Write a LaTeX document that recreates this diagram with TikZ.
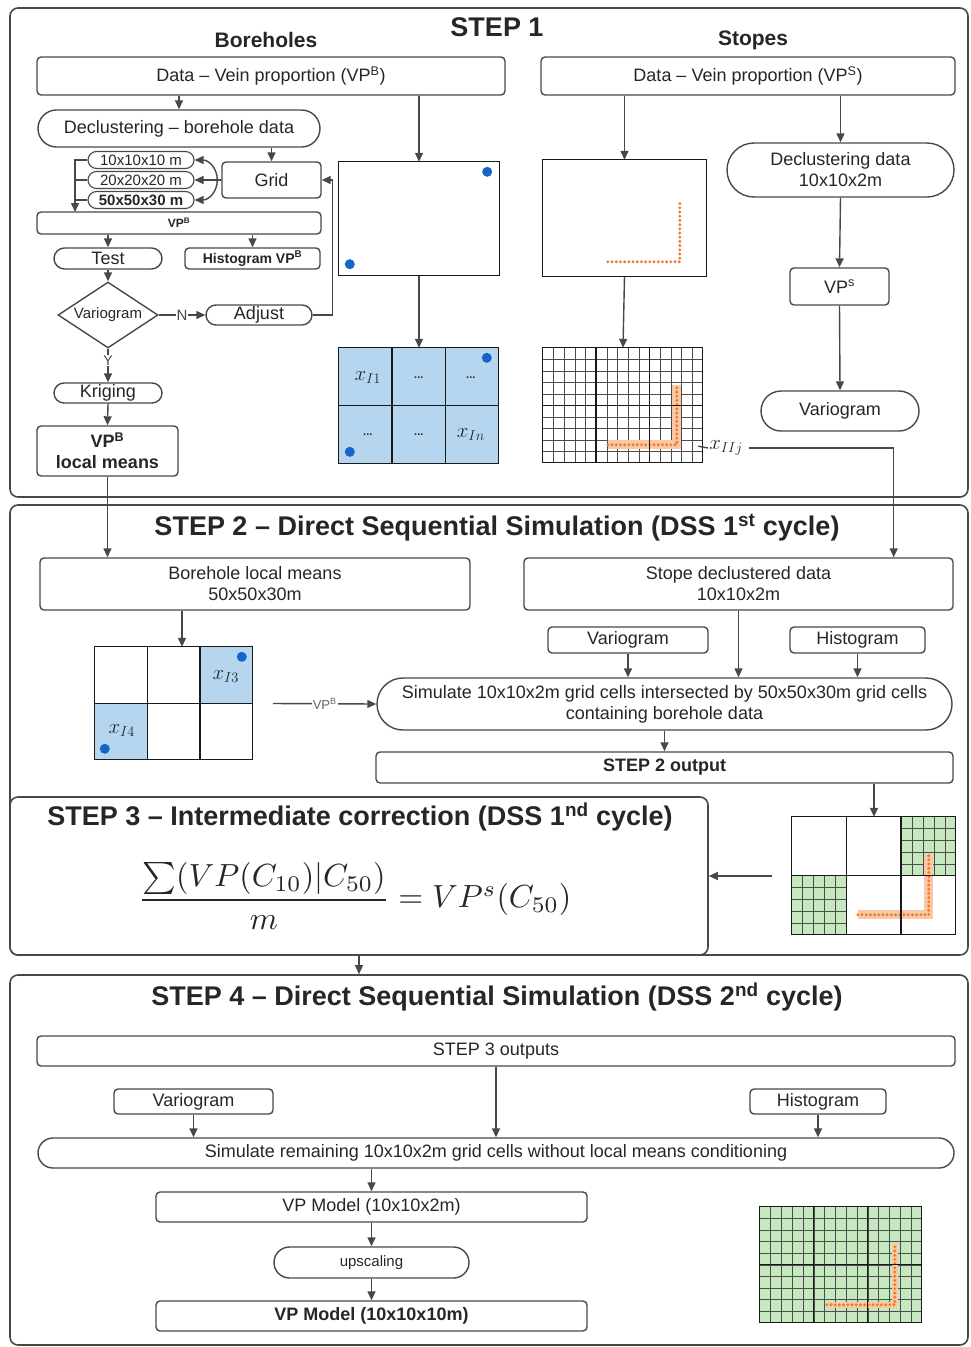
\documentclass[tikz,border=0pt]{standalone}
\usepackage{amsmath}
\usepackage{graphicx}
\usepackage{fontspec}
\setmainfont{Liberation Sans}
\usetikzlibrary{positioning,calc,arrows.meta,shapes.geometric,shapes.misc}

\definecolor{linegray}{HTML}{484848}
\definecolor{cellblue}{HTML}{B5D6EE}
\definecolor{dotblue}{HTML}{1565C8}
\definecolor{cellgreen}{HTML}{C6E8BF}
\definecolor{veinorange}{HTML}{F07B22}
\definecolor{veinpale}{HTML}{F9C8A8}

\tikzset{
    fine/.style={line width=.5pt, black!70},
    coarse/.style={line width=1.3pt, black!90},
    vein/.style={veinorange, line width=3.2pt, line cap=round, dash pattern=on 0pt off 4.2pt},
    veinbg/.style={veinpale, line width=9pt},
    xlab/.style={inner sep=0pt, font=\fontsize{20}{22}\selectfont},
    cdots/.style={inner sep=0pt, font=\bfseries\fontsize{11}{12}\selectfont}
}

\begin{document}
\begin{tikzpicture}[
        x=1pt, y=-1pt,
        >={Triangle[length=9pt,width=8pt]},
        text=black!85,
        box/.style={rectangle, rounded corners=4pt, draw=linegray, line width=1.4pt, inner sep=1pt, align=center, font=\fontsize{18}{21}\selectfont},
        pill/.style={rounded rectangle, draw=linegray, line width=1.4pt, inner sep=1pt, align=center, font=\fontsize{18}{21}\selectfont},
        cellpill/.style={pill, line width=1.1pt, font=\fontsize{15}{17}\selectfont},
        frame/.style={rectangle, rounded corners=8pt, draw=linegray, line width=1.6pt, inner sep=0pt},
        picbox/.style={rectangle, inner sep=0pt},
        title/.style={inner sep=1pt, font=\bfseries\fontsize{27}{30}\selectfont},
        head/.style={font=\bfseries\fontsize{21}{24}\selectfont},
        flow/.style={->, line width=1.4pt, linegray},
        wire/.style={line width=1.4pt, linegray},
    ]
    \useasboundingbox (0,0) rectangle (971,1347);

    % frames of the four steps
    \node[frame, minimum width=958pt, minimum height=489pt] (F1) at (489,252.5) {};
    \node[frame, minimum width=958pt, minimum height=450pt] (F2) at (489,730) {};
    \node[frame, minimum width=958pt, minimum height=370pt] (F4) at (489,1160) {};
    \node[frame, fill=white, minimum width=698pt, minimum height=158pt] (S3) at (359,876) {};

    %%% STEP 1
    \node[title] (T1) at (497,27) {STEP 1};
    \node[head] (hBore) at (266,40) {Boreholes};
    \node[head] (hStope) at (753,40) {Stopes};

    \node[box, minimum width=468pt, minimum height=38pt] (dataB) at (271,76) {Data – Vein proportion (VP\textsuperscript{B})};
    \node[box, minimum width=414pt, minimum height=38pt] (dataS) at (748,76) {Data – Vein proportion (VP\textsuperscript{S})};

    \node[pill, minimum width=284pt, minimum height=37pt] (declB) at (179,128.5) {Declustering – borehole data};
    \node[box, minimum width=99pt, minimum height=36pt] (grid) at (271.5,180) {Grid};
    \node[cellpill, minimum width=108pt, minimum height=17pt] (g10) at (141,160) {10x10x10 m};
    \node[cellpill, minimum width=108pt, minimum height=17pt] (g20) at (141,180) {20x20x20 m};
    \node[cellpill, minimum width=108pt, minimum height=17pt, font=\bfseries\fontsize{15}{17}\selectfont] (g50) at (141,200) {50x50x30 m};
    \coordinate (bk) at (75,212);
    \node[box, minimum width=284pt, minimum height=22pt, font=\bfseries\fontsize{12}{14}\selectfont] (vpB) at (179,223) {VP\textsuperscript{B}};
    \node[pill, minimum width=110pt, minimum height=21pt] (test) at (108,258.5) {Test};
    \node[box, minimum width=135pt, minimum height=21pt, font=\bfseries\fontsize{14}{16}\selectfont] (histB) at (252.5,258.5) {Histogram VP\textsuperscript{B}};
    \node[diamond, draw=linegray, line width=1.4pt, shape aspect=1.5, inner sep=0pt, minimum width=100pt, minimum height=66pt, font=\fontsize{15}{17}\selectfont] (vario) at (108,315) {Variogram};
    \node[pill, minimum width=108pt, minimum height=20pt] (adjust) at (259,315) {Adjust};
    \node[pill, minimum width=110pt, minimum height=20pt] (krig) at (108,393) {Kriging};
    \node[box, minimum width=141pt, minimum height=50pt, font=\bfseries\fontsize{18}{21}\selectfont] (localB) at (107.5,451) {VP\textsuperscript{B}\\local means};

    \node[picbox, minimum width=160pt, minimum height=113pt] (BH) at (419,218.5) {};
    \node[picbox, minimum width=160pt, minimum height=116pt] (BHgrid) at (419,406) {};
    \node[picbox, minimum width=163pt, minimum height=116pt] (ST) at (624.5,218) {};
    \node[picbox, minimum width=160pt, minimum height=115pt] (STgrid) at (623,405.5) {};

    \node[pill, minimum width=229pt, minimum height=54pt] (declS) at (840.5,170) {Declustering data\\10x10x2m};
    \node[box, minimum width=99pt, minimum height=37pt] (vpS) at (839.5,286.5) {VP\textsuperscript{s}};
    \node[pill, minimum width=160pt, minimum height=40pt] (varS) at (840,411) {Variogram};
    \node[xlab, inner sep=1pt] (xIIj) at (726,448) {$x_{IIj}$};

    \draw[flow] (declB.north |- dataB.south) -- (declB.north);
    \draw[flow] (grid.north |- declB.south) -- (grid.north);
    \draw[flow] (grid.west) -- ++(-4,0) .. controls +(0,-12) and +(14,0) .. (g10.east);
    \draw[flow] (grid.west) -- (g20.east);
    \draw[flow] (grid.west) -- ++(-4,0) .. controls +(0,12) and +(14,0) .. (g50.east);
    \draw[flow] (g10.west) -| (bk);
    \draw[wire] (g20.west) -- (g20.west -| bk);
    \draw[wire] (g50.west) -- (g50.west -| bk);
    \draw[flow] (test.north |- vpB.south) -- (test.north);
    \draw[flow] (histB.north |- vpB.south) -- (histB.north);
    \draw[flow] (test.south) -- (vario.north);
    \draw[flow] (vario.east) -- node[fill=white, inner sep=1pt, font=\fontsize{15}{17}\selectfont] (lN) {N} (adjust.west);
    \draw[flow] (adjust.east) -- ++(20,0) |- (grid.east);
    \draw[flow] (vario.south) -- node[pos=.35, fill=white, inner sep=1pt, font=\fontsize{14}{16}\selectfont] (lY) {Y} (krig.north);
    \draw[flow] (krig.south) -- (localB.north);

    \draw[flow] (BH.north |- dataB.south) -- (BH.north);
    \draw[flow] (BH.south) -- (BHgrid.north);
    \draw[flow] (ST.north |- dataS.south) -- (ST.north);
    \draw[flow] (ST.south) -- (STgrid.north);
    \draw[flow] (declS.north |- dataS.south) -- (declS.north);
    \draw[flow] (declS.south) -- (vpS.north);
    \draw[flow] (vpS.south) -- (varS.north);

    % borehole map
    \draw[coarse] (BH.north west) rectangle (BH.south east);
    \fill[dotblue] ([xshift=-12pt,yshift=-10pt]BH.north east) circle (5pt);
    \fill[dotblue] ([xshift=11pt,yshift=11pt]BH.south west) circle (5pt);

    % borehole cells
    \begin{scope}[shift={(BHgrid.north west)}]
        \fill[cellblue] (0,0) rectangle (160,116);
        \draw[coarse] (53.3,0) -- (53.3,116) (106.7,0) -- (106.7,116) (0,58) -- (160,58);
        \draw[coarse] (0,0) rectangle (160,116);
        \node[xlab] (xI1) at (29,30) {$x_{I1}$};
        \node[cdots] (d1) at (80,30) {...};
        \node[cdots] (d2) at (132,30) {...};
        \node[cdots] (d3) at (29,87) {...};
        \node[cdots] (d4) at (80,87) {...};
        \node[xlab] (xIn) at (132,87) {$x_{In}$};
        \fill[dotblue] (148,10) circle (5pt) (11,104) circle (5pt);
    \end{scope}

    % stope map
    \draw[coarse] (ST.north west) rectangle (ST.south east);
    \begin{scope}[shift={(ST.north west)}]
        \draw[vein] (65,102) -- (137,102) -- (137,40);
    \end{scope}

    % stope cells
    \begin{scope}[shift={(STgrid.north west)}]
        \foreach \i in {1,...,14} \draw[fine] (\i*160/15,0) -- (\i*160/15,115);
        \foreach \j in {1,...,9} \draw[fine] (0,\j*11.5) -- (160,\j*11.5);
        \draw[veinbg] (65,97) -- (134,97) -- (134,37);
        \draw[vein] (65,97) -- (134,97) -- (134,37);
        \draw[coarse] (53.3,0) -- (53.3,115) (106.7,0) -- (106.7,115) (0,57.5) -- (160,57.5);
        \draw[coarse] (0,0) rectangle (160,115);
    \end{scope}
    \draw[wire] ([xshift=-5pt,yshift=17pt]STgrid.south east) -- (xIIj.west);

    %%% STEP 2
    \node[title] (T2) at (497,528) {STEP 2 – Direct Sequential Simulation (DSS 1\textsuperscript{st} cycle)};
    \node[box, minimum width=430pt, minimum height=52pt] (boreLM) at (255,584) {Borehole local means\\50x50x30m};
    \node[picbox, minimum width=158pt, minimum height=113pt] (BG2) at (174,703.5) {};
    \node[box, minimum width=429pt, minimum height=52pt] (stDD) at (738.5,584) {Stope declustered data\\10x10x2m};
    \node[box, minimum width=160pt, minimum height=26pt] (var2) at (628,640) {Variogram};
    \node[box, minimum width=135pt, minimum height=26pt] (hist2) at (857.5,640) {Histogram};
    \node[pill, minimum width=577pt, minimum height=52pt] (sim2) at (664.5,704) {Simulate 10x10x2m grid cells intersected by 50x50x30m grid cells\\containing borehole data};
    \node[box, minimum width=577pt, minimum height=31pt, font=\bfseries\fontsize{18}{21}\selectfont] (out2) at (664.5,767.5) {STEP 2 output};
    \node[picbox, minimum width=164pt, minimum height=118pt] (G3) at (874,876) {};

    \draw[flow] (localB.south) -- (localB.south |- boreLM.north);
    \draw[flow] ([xshift=5pt]xIIj.east) -| ([xshift=-60pt]stDD.north east);
    \draw[flow] ([xshift=8pt]BG2.north |- boreLM.south) -- ([xshift=8pt]BG2.north);
    \draw[flow] ([xshift=20pt]BG2.east) -- node[fill=white, inner sep=1pt, text=black!60, font=\fontsize{13}{15}\selectfont] (lVP) {VP\textsuperscript{B}} (sim2.west);
    \draw[flow] (var2.south) -- (var2.south |- sim2.north);
    \draw[flow] (stDD.south) -- (stDD.south |- sim2.north);
    \draw[flow] (hist2.south) -- (hist2.south |- sim2.north);
    \draw[flow] (sim2.south) -- (out2.north);
    \draw[flow] (G3.north |- out2.south) -- (G3.north);

    % local means cells
    \begin{scope}[shift={(BG2.north west)}]
        \fill[cellblue] (105.3,0) rectangle (158,56.5) (0,56.5) rectangle (52.7,113);
        \draw[coarse] (52.7,0) -- (52.7,113) (105.3,0) -- (105.3,113) (0,56.5) -- (158,56.5);
        \draw[coarse] (0,0) rectangle (158,113);
        \node[xlab] (xI3) at (131,30) {$x_{I3}$};
        \node[xlab] (xI4) at (27,84) {$x_{I4}$};
        \fill[dotblue] (147,10) circle (5pt) (10,102) circle (5pt);
    \end{scope}

    %%% STEP 3
    \node[title] (T3) at (360,817) {STEP 3 – Intermediate correction (DSS 1\textsuperscript{nd} cycle)};
    \node[inner sep=0pt] (eq) at (355,896) {\scalebox{3.2}{$\dfrac{\sum(VP(C_{10})|C_{50})}{m} = VP^{s}(C_{50})$}};
    \draw[flow] ([xshift=-20pt]G3.west) -- (G3.west -| S3.east);
    \draw[flow] (S3.south) -- (S3.south |- F4.north);

    % corrected cells
    \begin{scope}[shift={(G3.north west)}]
        \fill[cellgreen] (109.3,0) rectangle (164,59) (0,59) rectangle (54.7,118);
        \foreach \i in {1,...,4} {
            \draw[fine] (109.3+\i*10.93,0) -- (109.3+\i*10.93,59);
            \draw[fine] (109.3,\i*11.8) -- (164,\i*11.8);
            \draw[fine] (\i*10.93,59) -- (\i*10.93,118);
            \draw[fine] (0,59+\i*11.8) -- (54.7,59+\i*11.8);
        }
        \draw[veinbg] (66,98) -- (137,98) -- (137,38);
        \draw[vein] (66,98) -- (137,98) -- (137,38);
        \draw[coarse] (54.7,0) -- (54.7,118) (109.3,0) -- (109.3,118) (0,59) -- (164,59);
        \draw[coarse] (0,0) rectangle (164,118);
    \end{scope}

    %%% STEP 4
    \node[title] (T4) at (497,997) {STEP 4 – Direct Sequential Simulation (DSS 2\textsuperscript{nd} cycle)};
    \node[box, minimum width=918pt, minimum height=30pt] (out3) at (496,1051) {STEP 3 outputs};
    \node[box, minimum width=159pt, minimum height=25pt] (var4) at (193.5,1101.5) {Variogram};
    \node[box, minimum width=136pt, minimum height=25pt] (hist4) at (818,1101.5) {Histogram};
    \node[pill, minimum width=918pt, minimum height=30pt] (sim4) at (496,1153) {Simulate remaining 10x10x2m grid cells without local means conditioning};
    \node[box, minimum width=431pt, minimum height=30pt] (vpm1) at (371.5,1207) {VP Model (10x10x2m)};
    \node[pill, minimum width=197pt, minimum height=31pt, font=\fontsize{15}{17}\selectfont] (ups) at (371.5,1262.5) {upscaling};
    \node[box, minimum width=431pt, minimum height=30pt, font=\bfseries\fontsize{18}{21}\selectfont] (vpm2) at (371.5,1316) {VP Model (10x10x10m)};
    \node[picbox, minimum width=162pt, minimum height=116pt] (G4) at (841,1265) {};

    \draw[flow] (var4.south) -- (var4.south |- sim4.north);
    \draw[flow] (out3.south) -- (sim4.north);
    \draw[flow] (hist4.south) -- (hist4.south |- sim4.north);
    \draw[flow] (vpm1.north |- sim4.south) -- (vpm1.north);
    \draw[flow] (vpm1.south) -- (ups.north);
    \draw[flow] (ups.south) -- (vpm2.north);

    % final model cells
    \begin{scope}[shift={(G4.north west)}]
        \fill[cellgreen] (0,0) rectangle (162,116);
        \foreach \i in {1,...,14} \draw[fine] (\i*162/15,0) -- (\i*162/15,116);
        \foreach \j in {1,...,9} \draw[fine] (0,\j*11.6) -- (162,\j*11.6);
        \draw[veinbg, line width=6pt] (67,98) -- (135,98) -- (135,36);
        \draw[vein] (67,98) -- (135,98) -- (135,36);
        \draw[coarse] (54,0) -- (54,116) (108,0) -- (108,116) (0,58) -- (162,58);
        \draw[coarse] (0,0) rectangle (162,116);
    \end{scope}

\end{tikzpicture}
\end{document}
